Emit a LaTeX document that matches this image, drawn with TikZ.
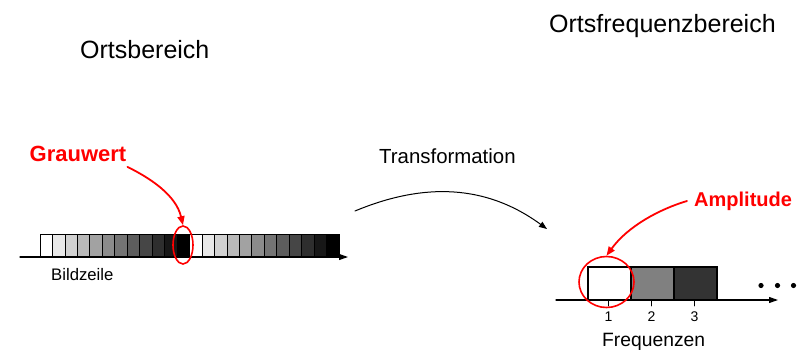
\documentclass[tikz,border=0pt]{standalone}
\usepackage{fontspec}
\setmainfont{Liberation Sans}
\usetikzlibrary{arrows.meta,shapes.geometric}
\definecolor{markrot}{RGB}{255,0,0}

\begin{document}
\begin{tikzpicture}[x=1pt,y=-1pt,line cap=round,
    titel/.style={inner sep=0pt,anchor=base west,font=\fontsize{25}{25}\selectfont},
    marke/.style={inner sep=0pt,anchor=base west,text=markrot,font=\bfseries},
    zeiger/.style={draw=markrot,line width=1.8pt,-{Triangle[length=9pt,width=7pt]}},
    ring/.style={ellipse,draw=markrot,line width=1.6pt,inner sep=0pt}]
  \useasboundingbox (0,0) rectangle (812,353);

  \node[titel] (ort) at (80,59) {Ortsbereich};
  \node[titel] (freq) at (549,32.5) {Ortsfrequenzbereich};

  % Bildzeile: zwei Grauwertrampen
  \foreach \i in {0,...,23} {
    \pgfmathsetmacro\grau{100*mod(\i,12)/11}
    \filldraw[fill=black!\grau,draw=black,line width=0.8pt]
      (40+\i*12.46,234) rectangle ++(12.46,23);
  }
  \draw[line width=1.1pt,-{Triangle[length=9pt,width=6pt]}] (20,257) -- (348,257);
  \node[inner sep=0pt,anchor=base west,font=\fontsize{16.7}{17}\selectfont]
    (zeile) at (51,280.5) {Bildzeile};

  \node[ring,minimum width=20pt,minimum height=38pt] (pixel) at (183,245) {};
  \node[marke,font=\bfseries\fontsize{22}{22}\selectfont] (grauwert) at (29.5,161.5) {Grauwert};
  \draw[zeiger] ([shift={(1,5)}]grauwert.south east)
    .. controls (150,178) and (176,195) .. (pixel.north);

  % Transformation
  \node[inner sep=0pt,anchor=base west,font=\fontsize{20.4}{21}\selectfont]
    (trafo) at (379,163) {Transformation};
  \coordinate (von) at (355,211);
  \coordinate (nach) at (547,229);
  \draw[line width=1pt,-{Triangle[length=8pt,width=6pt]}] (von)
    .. controls (415,186) and (480,180) .. (nach);

  % Frequenzen
  \draw[line width=1.1pt,-{Triangle[length=9pt,width=6pt]}] (556,300) -- (778,300);
  \foreach \k/\g in {0/white,1/black!50,2/black!80} {
    \filldraw[fill=\g,draw=black,line width=1.3pt]
      (588+\k*43,267) rectangle ++(43,33);
  }
  \foreach \k/\x in {1/608.5,2/651.5,3/694.5} {
    \draw[line width=0.9pt] (\x,300) -- (\x,306);
    \node[inner sep=0pt,anchor=base,font=\fontsize{14}{14}\selectfont]
      (f\k) at (\x,321.5) {\k};
  }
  \node[inner sep=0pt,anchor=base west,font=\fontsize{19.3}{20}\selectfont]
    (freqs) at (602,346.5) {Frequenzen};
  \foreach \x in {761,777.5,793.5}
    \fill (\x,285.5) circle (2.6pt);

  \node[ring,minimum width=55pt,minimum height=51pt] (grund) at (606.5,282) {};
  \node[marke,font=\bfseries\fontsize{20}{20}\selectfont] (amp) at (694,206) {Amplitude};
  \draw[zeiger] ([shift={(-7,-5)}]amp.base west)
    .. controls (660,209) and (628,226) .. (grund.north) ;
\end{tikzpicture}
\end{document}
